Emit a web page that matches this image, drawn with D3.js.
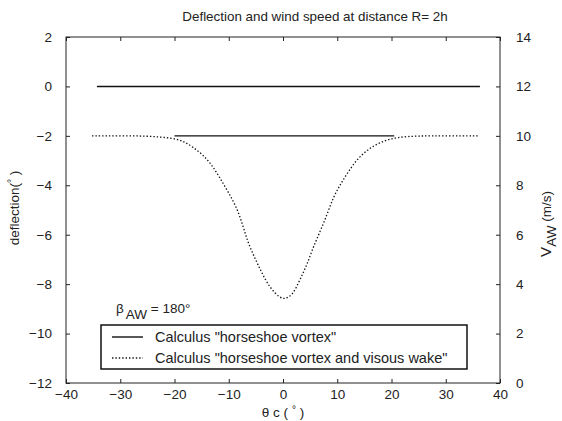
<!DOCTYPE html>
<html>
<head>
<meta charset="utf-8">
<script src="https://cdn.jsdelivr.net/npm/d3@7"></script>
<style>
body { margin: 0; background: #fff; }
svg { font-family: "Liberation Sans", Arial, sans-serif; }
</style>
</head>
<body>
<div id="chart"></div>
<script>
// tick values
var xTicks = [-40, -30, -20, -10, 0, 10, 20, 30, 40];
var leftTicks = [2, 0, -2, -4, -6, -8, -10, -12];
var rightTicks = [0, 2, 4, 6, 8, 10, 12, 14];

// deflection, "horseshoe vortex" (left axis)
var thetaDefl = [-34.3, 36.3];
var deflHV = [0, 0];

// wind speed, "horseshoe vortex" (right axis)
var thetaSpeedHV = [-20, 20.5];
var speedHV = [10, 10];

// wind speed, "horseshoe vortex and visous wake" (right axis)
var thetaWake = [-35.2, -30, -25, -20.3, -18.4, -16.6, -14.7, -13.1, -11.6, -10.1, -8.5, -7.4, -6.5,
                 -5.2, -3.9, -2.4, -0.55, 0.4, 1.8, 3.1, 4.4, 5.5, 6.8, 8.1, 9.2, 10.5, 12.0, 13.8,
                 16.0, 18.4, 21.0, 25, 30, 36];
var speedWake = [10, 10, 10, 9.91, 9.79, 9.55, 9.22, 8.82, 8.29, 7.73, 7.08, 6.39, 5.70,
                 5.06, 4.45, 3.84, 3.44, 3.40, 3.56, 4.17, 4.77, 5.46, 6.11, 6.80, 7.48, 8.01, 8.54, 9.10,
                 9.51, 9.79, 9.95, 10, 10, 10];

var legendLabels = ['Calculus "horseshoe vortex"', 'Calculus "horseshoe vortex and visous wake"'];

var W = 562, H = 421;
var m = {left: 66, right: 500, top: 37, bottom: 383};
var ink = "#222";
var fs = "13.5px";

var svg = d3.select("#chart").append("svg")
    .attr("width", W)
    .attr("height", H);

var x = d3.scaleLinear().domain([-40, 40]).range([m.left, m.right]);
var yL = d3.scaleLinear().domain([-12, 2]).range([m.bottom, m.top]);
var yR = d3.scaleLinear().domain([0, 14]).range([m.bottom, m.top]);

// axes, ticks pointing inward
function styleAxis(g) {
    g.select(".domain").remove();
    g.selectAll("line").attr("stroke", ink);
    g.selectAll("text").attr("fill", ink).style("font-size", fs);
}

svg.append("g")
    .attr("transform", "translate(0," + m.bottom + ")")
    .call(d3.axisBottom(x).tickValues(xTicks).tickSize(-4).tickPadding(6))
    .call(styleAxis);

svg.append("g")
    .attr("transform", "translate(0," + m.top + ")")
    .call(d3.axisTop(x).tickValues(xTicks).tickSize(-4).tickFormat(""))
    .call(styleAxis);

svg.append("g")
    .attr("transform", "translate(" + m.left + ",0)")
    .call(d3.axisLeft(yL).tickValues(leftTicks).tickSize(-4).tickPadding(14))
    .call(styleAxis);

svg.append("g")
    .attr("transform", "translate(" + m.right + ",0)")
    .call(d3.axisRight(yR).tickValues(rightTicks).tickSize(-4).tickPadding(16))
    .call(styleAxis);

// frame
svg.append("rect")
    .attr("x", m.left).attr("y", m.top)
    .attr("width", m.right - m.left).attr("height", m.bottom - m.top)
    .attr("fill", "none")
    .attr("stroke", ink)
    .attr("stroke-width", 1);

// lines
var lineL = d3.line()
    .x(function(d) { return x(d[0]); })
    .y(function(d) { return yL(d[1]); });
var lineR = d3.line()
    .curve(d3.curveBasis)
    .x(function(d) { return x(d[0]); })
    .y(function(d) { return yR(d[1]); });

svg.append("path")
    .datum(d3.zip(thetaDefl, deflHV))
    .attr("fill", "none")
    .attr("stroke", "#111")
    .attr("stroke-width", 1.4)
    .attr("d", lineL);

svg.append("path")
    .datum(d3.zip(thetaSpeedHV, speedHV))
    .attr("fill", "none")
    .attr("stroke", "#111")
    .attr("stroke-width", 1.4)
    .attr("d", lineR);

svg.append("path")
    .datum(d3.zip(thetaWake, speedWake))
    .attr("fill", "none")
    .attr("stroke", "#111")
    .attr("stroke-width", 1.3)
    .attr("stroke-dasharray", "1.4,2")
    .attr("d", lineR);

// title
svg.append("text")
    .attr("x", 315).attr("y", 21)
    .attr("text-anchor", "middle")
    .attr("fill", ink)
    .style("font-size", "13.4px")
    .text("Deflection and wind speed at distance R= 2h");

// x label
var xl = svg.append("text")
    .attr("x", (m.left + m.right) / 2).attr("y", 417)
    .attr("text-anchor", "middle")
    .attr("fill", ink)
    .style("font-size", fs);
xl.append("tspan").text("\u03b8 c ( ");
xl.append("tspan").attr("dy", -4).style("font-size", "10px").text("\u00b0");
xl.append("tspan").attr("dy", 4).text(" )");

// left y label
var yl = svg.append("text")
    .attr("transform", "translate(19,208) rotate(-90)")
    .attr("text-anchor", "middle")
    .attr("fill", ink)
    .style("font-size", fs);
yl.append("tspan").text("deflection(");
yl.append("tspan").attr("dy", -4).style("font-size", "10px").text("\u00b0");
yl.append("tspan").attr("dy", 4).text(" )");

// right y label
var yr = svg.append("text")
    .attr("transform", "translate(551,224) rotate(-90)")
    .attr("text-anchor", "middle")
    .attr("fill", ink)
    .style("font-size", fs);
yr.append("tspan").style("font-size", "15px").text("V");
yr.append("tspan").attr("dy", 5).text("AW");
yr.append("tspan").attr("dy", -5).text(" (m/s)");

// beta annotation
var bt = svg.append("text")
    .attr("x", 116).attr("y", 313)
    .attr("fill", ink)
    .style("font-size", fs);
bt.append("tspan").text("\u03b2");
bt.append("tspan").attr("dy", 6).attr("dx", 2).text("AW");
bt.append("tspan").attr("dy", -6).text(" = 180\u00b0");

// legend
var lg = svg.append("g");
lg.append("rect")
    .attr("x", 101).attr("y", 325)
    .attr("width", 366).attr("height", 44)
    .attr("fill", "#fff")
    .attr("stroke", "#111")
    .attr("stroke-width", 1.5);

var rows = lg.selectAll("g.row")
    .data(legendLabels)
    .enter().append("g")
    .attr("class", "row")
    .attr("transform", function(d, i) { return "translate(0," + (337 + i * 21) + ")"; });

rows.append("line")
    .attr("x1", 112).attr("x2", 143)
    .attr("stroke", "#111")
    .attr("stroke-width", function(d, i) { return i ? 1.3 : 1.4; })
    .attr("stroke-dasharray", function(d, i) { return i ? "1.4,2" : null; });

rows.append("text")
    .attr("x", 155)
    .attr("dy", "0.35em")
    .attr("fill", ink)
    .style("font-size", "14.5px")
    .text(function(d) { return d; });
</script>
</body>
</html>
